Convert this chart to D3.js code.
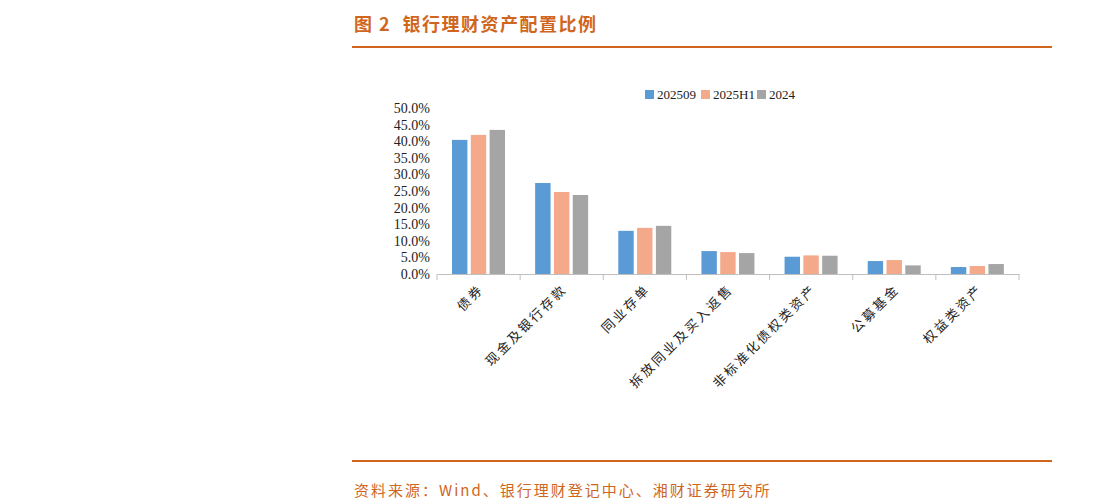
<!DOCTYPE html><html><head><meta charset="utf-8"><script src="https://cdn.jsdelivr.net/npm/d3@7"></script>
<style>body{margin:0;background:#fff}</style></head><body><svg id="c" width="1108" height="504"></svg>
<script>
const categories=["债券","现金及银行存款","同业存单","拆放同业及买入返售","非标准化债权类资产","公募基金","权益类资产"];
const seriesNames=["202509","2025H1","2024"];
const s202509=[40.4,27.4,13.0,6.9,5.2,3.9,2.1];
const s2025H1=[41.9,24.7,13.9,6.6,5.6,4.2,2.4];
const s2024=[43.4,23.8,14.5,6.3,5.5,2.6,3.0];
const yTicks=[0,5,10,15,20,25,30,35,40,45,50];
const colors=["#5b9bd5","#f4a98a","#a5a5a5"];
const series=[s202509,s2025H1,s2024];
const svg=d3.select("#c");
const orange="#d0661e";
svg.append("text").attr("x",354).attr("y",31).attr("fill",orange).attr("font-size",18).attr("font-weight","bold").attr("font-family","Noto Sans CJK SC").attr("letter-spacing",1.5).attr("xml:space","preserve").text("图 2  银行理财资产配置比例");
svg.append("line").attr("x1",352).attr("x2",1052).attr("y1",47).attr("y2",47).attr("stroke",orange).attr("stroke-width",2);
svg.append("line").attr("x1",352).attr("x2",1052).attr("y1",461).attr("y2",461).attr("stroke",orange).attr("stroke-width",2);
svg.append("text").attr("x",354).attr("y",496).attr("fill",orange).attr("font-size",15).attr("letter-spacing",2).attr("font-family","Noto Sans CJK SC").text("资料来源：Wind、银行理财登记中心、湘财证券研究所");
const x=d3.scaleBand().domain(categories).range([437,1019]);
const y=d3.scaleLinear().domain([0,50]).range([274,108]);
const xs=d3.scaleBand().domain(d3.range(3)).range([15,68]).paddingInner(0.18);
const g=svg.append("g");
series.forEach((s,i)=>g.selectAll(null).data(s).enter().append("rect")
 .attr("x",(d,j)=>x(categories[j])+xs(i)).attr("width",xs.bandwidth())
 .attr("y",d=>y(d)).attr("height",d=>y(0)-y(d)).attr("fill",colors[i]));
const ya=svg.append("g").attr("transform","translate(437,0)").call(d3.axisLeft(y).tickValues(yTicks).tickSize(0).tickFormat(d=>d.toFixed(1)+"%"));
ya.select(".domain").remove();
ya.selectAll("text").attr("font-family","Liberation Serif").attr("font-size",14).attr("fill","#222").attr("x",-7);
const xa=svg.append("g").attr("transform","translate(0,274)").call(d3.axisBottom(x).tickSize(0).tickFormat(""));
xa.select(".domain").attr("stroke","#bfbfbf");
svg.selectAll(null).data(d3.range(categories.length+1)).enter().append("line")
 .attr("x1",i=>437+i*x.step()).attr("x2",i=>437+i*x.step()).attr("y1",274).attr("y2",280).attr("stroke","#bfbfbf");
svg.selectAll(null).data(categories).enter().append("text")
 .attr("transform",d=>`translate(${x(d)+x.bandwidth()/2+6},${290}) rotate(-45)`)
 .attr("text-anchor","end").attr("font-size",13).attr("letter-spacing",2.5).attr("font-family","Noto Sans CJK SC").attr("fill","#222").text(d=>d);
const lg=svg.append("g").attr("transform","translate(645,90)");
seriesNames.forEach((n,i)=>{const ox=[0,56,112][i];
 lg.append("rect").attr("x",ox).attr("y",0).attr("width",9).attr("height",9).attr("fill",colors[i]);
 lg.append("text").attr("x",ox+12).attr("y",9).attr("font-family","Liberation Serif").attr("font-size",13).attr("fill","#222").text(n);});
</script></body></html>
